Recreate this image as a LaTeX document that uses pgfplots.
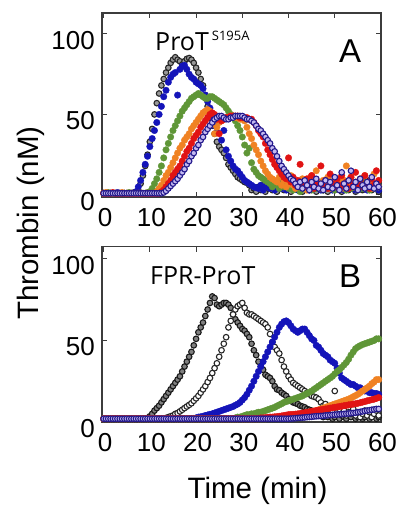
\documentclass[border=0pt]{standalone}
\usepackage{pgfplots}
\pgfplotsset{compat=1.18}
\usepackage{pgfplotstable}
\usepackage{fontspec}
\setmainfont{Liberation Sans}
\newfontfamily\osans{Open Sans}

\definecolor{cBlue}{RGB}{20,20,185}
\definecolor{cGreen}{RGB}{95,150,55}
\definecolor{cOrange}{RGB}{240,130,35}
\definecolor{cRed}{RGB}{225,20,20}
\definecolor{cPurp}{RGB}{35,25,140}
\definecolor{cLav}{RGB}{195,185,240}
\definecolor{cAx}{RGB}{60,60,60}

% top panel: t, black(open, gray centre), blue, green, orange, red, purple
\pgfplotstableread{
t k b g o r p
0 1 1 1 1 1 1
0.5 1 1 1 1.5 1 1
1 1 1 1.5 1 1 1
1.5 1 1 1 1 1 1
2 1 1 1 1 1.5 1
2.5 1 1 1 1 1 1
3 1 1.5 1 1 1 1
3.5 1 1 1 1 1 1
4 1 1 1 1.5 1 1
4.5 1 1 1 1 1 1
5 1 1 1 1 1 1
5.5 1 1 1.5 1 1 1
6 1 1 1 1 1 1
6.5 1.5 1 1 1 1 1
7 1.5 2 1 1 1 1
7.5 3 5 1 1 1 1
8 7 9 1 1 1 1
8.5 12 14 1 1 1 1
9 18 19 1 1 1 1
9.5 25 24 1.5 1 1 1
10 33 30 2 1 1 1
10.5 41 35 4 1 1 1
11 50 40 7 1 1 1
11.5 57 45 10 2 1 1
12 63 50 14 4 1 1
12.5 68 55 18 6 2 1
13 72 61 23 9 3 1.5
13.5 76 65 28 12 5 2.5
14 79 70 32 14 7 4
14.5 82 73 36 17 9 5.5
15 84 75 40 20 12 7
15.5 85.5 76 43 23 14 8.5
16 84 62 46 26 16 10
16.5 83 78 49 29 18 12
17 81 80 52 31 21 14
17.5 83 80.5 54 34 24 16
18 84.5 78 56 36 27 19
18.5 85 75 58 38 29 21
19 84 73 60 41 32 24
19.5 82 72 61 43 35 26
20 79 70 62 45 37 29
20.5 76 69 63 47 39 31
21 72 68 62 49 42 34
21.5 68 66 61 51 44 36
22 62 62 60 52 46 39
22.5 55 58 60 53 48 41
23 48 54 61 52 50 43
23.5 43 48 61 44 51 45
24 38 43 60 38 50 47
24.5 33 39 59 42 47 48
25 30 46 58 45 38 49
25.5 28 34 57 46 46 49
26 26 40 56 47 47 48
26.5 23 28 54 48 48 47
27 19 24 52 48 48 47
27.5 17 21 50 49 49 48
28 15 18 48 49 49 48
28.5 13 16 46 48 49 49
29 11 15 43 48 49 49
29.5 10 13 40 47 48 49
30 9 11 36 47 48 49
30.5 8 9 31 46 48 48
31 7.5 8 26 42 48 47
31.5 6 7 29 38 47 47
32 3 6 20 35 47 46
32.5 4 5 16 31 45 45
33 2 4.5 14 28 43 43
33.5 5 4 12 25 40 41
34 3 6 11 21 38 40
34.5 6 3 10 18 36 38
35 2 5 9 15 32 36
35.5 4 7 8 13 28 34
36 7 4 7 11 25 32
36.5 3 6 5 10 22 29
37 5 3 8 9 19 27
37.5 2 5 6 8 17 24
38 6 8 4 11 15 21
38.5 4 4 7 6 13 18
39 3 6 5 9 11 16
39.5 5 3 9 5 10 14
40 8 5 4 7 23 12
40.5 2 7 6 12 8 10
41 4 4 3 6 11 9
41.5 6 6 7 4 6 7
42 3 3 5 8 9 5
42.5 5 5 2 5 19 8
43 2 8 6 10 7 4
43.5 4 4 4 6 5 9
44 6 6 8 3 10 6
44.5 3 3 5 7 6 3
45 5 5 3 12 12 8
45.5 8 7 6 5 4 5
46 2 4 4 15 8 10
46.5 4 6 7 8 5 4
47 6 3 5 4 18 7
47.5 3 5 3 9 6 3
48 5 8 6 6 9 9
48.5 2 4 4 11 4 5
49 7 6 7 4 13 8
49.5 4 3 5 7 7 4
50 3 5 3 10 5 11
50.5 6 7 6 5 10 6
51 5 4 4 8 6 3
51.5 2 6 8 4 12 14
52 4 3 5 9 5 7
52.5 8 5 3 18 8 4
53 3 8 6 6 4 9
53.5 5 4 4 11 11 15
54 6 6 7 5 7 5
54.5 2 3 5 8 14 8
55 4 5 3 4 6 3
55.5 7 7 6 10 9 10
56 3 4 4 6 5 6
56.5 5 6 8 12 12 4
57 4 3 5 5 7 8
57.5 9 5 3 8 4 5
58 3 8 6 4 10 11
58.5 6 4 4 13 6 4
59 5 6 7 7 15 7
59.5 2 3 5 5 9 5
}\toptab

% bottom panel: t, dark black, open black, blue, green, orange, red, purple
\pgfplotstableread{
t d w b g o r p
0 2 2 2 2 2 2 2
0.5 2 2 2 2 2 2 2
1 2 2 2 2 2 2 2
1.5 2 2 2 2 2 2 2
2 2 2 2 2 2 2 2
2.5 2 2 2 2 2 2 2
3 2 2 2 2 2 2 2
3.5 2 2 2 2 2 2 2
4 2 2 2 2 2 2 2
4.5 2 2 2 2 2 2 2
5 2 2 2 2 2 2 2
5.5 2 2 2 2 2 2 2
6 2 2 2 2 2 2 2
6.5 2 2 2 2 2 2 2
7 2 2 2 2 2 2 2
7.5 2 2 2 2 2 2 2
8 2 2 2 2 2 2 2
8.5 2 2 2 2 2 2 2
9 2 2 2 2 2 2 2
9.5 2.5 2 2 2 2 2 2
10 3.5 2 2 2 2 2 2
10.5 5 2 2 2 2 2 2
11 7 2 2 2 2 2 2
11.5 8.5 2 2 2 2 2 2
12 10 2 2 2 2 2 2
12.5 12 2 2 2 2 2 2
13 14 2 2 2 2 2 2
13.5 16 2.5 2 2 2 2 2
14 18 3 2 2 2 2 2
14.5 20 3.5 2 2 2 2 2
15 22 4 2 2 2 2 2
15.5 24 5 2 2 2 2 2
16 26 5.5 2 2 2 2 2
16.5 28 6.5 2 2 2 2 2
17 31 7.5 2 2 2 2 2
17.5 34 8.5 2 2 2 2 2
18 37 9.5 2 2 2 2 2
18.5 40 10.5 2 2 2 2 2
19 43 11.5 2 2 2 2 2
19.5 47 13 2.2 2 2 2 2
20 51 14.5 2.5 2 2 2 2
20.5 55 16 3 2 2 2 2
21 58 18 3.2 2 2 2 2
21.5 61 20 3.5 2 2 2 2
22 65 22 4 2 2 2 2
22.5 69 24.5 4.3 2 2 2 2
23 73 27 4.7 2 2 2 2
23.5 77 30 5 2 2 2 2
24 76 33 5.5 2 2 2 2
24.5 72 36 6 2 2 2 2
25 71 40 6.5 2 2 2 2
25.5 72 44 7 2 2 2 2
26 73 48 7.5 2 2 2 2
26.5 73 52 8 2 2 2 2
27 72 58 8.5 2 2 2 2
27.5 70 62 9 2 2 2 2
28 66 66 9.5 2 2 2 2
28.5 63 69 10.3 2.5 2 2 2
29 61 71 11 3 2 2 2
29.5 59 72 12 3 2 2 2
30 57 73 13.5 3.5 2 2 2
30.5 56 70 15 4 2 2 2
31 54 67 17 4.5 2 2 2
31.5 52 66 19.5 4.5 2 2 2
32 48 66 22 5 2 2 2
32.5 44 65 25 5 2 2 2
33 41 64 28 5.5 2 2 2
33.5 37 63 31 6 2 2.2 2
34 34 62 34 6 2 2.5 2
34.5 32 61 37 6.5 2 2.5 2
35 29 60 40 7 2 2.7 2
35.5 28 58 43 7.5 2.2 2.8 2
36 27 54 46 8 2.5 3 2
36.5 25 49 49 8.5 2.5 3 2
37 22 46 52 9 2.7 3.2 2
37.5 20 44 55 9.8 2.8 3.3 2
38 19.5 42 58 10.5 3 3.5 2
38.5 18 38 60 11.2 3 3.7 2
39 17 34 61.5 12 3.2 4 2
39.5 16 31 62 12.5 3.4 4.2 2
40 14 28 61 13 3.5 4.5 2
40.5 13 26 59 13.5 3.7 4.6 2.1
41 12 24 57 14 4 4.7 2.2
41.5 11.5 23 56 14.5 4.2 4.8 2.3
42 11 22 55 15 4.5 5 2.5
42.5 10 21 56 15.5 4.7 5.2 2.6
43 9.5 20 57 16 5 5.5 2.7
43.5 9 19 57 16.8 5.2 5.7 2.8
44 8 18 55 17.5 5.5 6 3
44.5 7.5 17 53 18.2 6 6.2 3.1
45 7 16 51 19 6.2 6.5 3.2
45.5 6 15.5 50 20 6.6 6.7 3.4
46 5.5 15 47 21 7 7 3.5
46.5 5 14 46 22 7.5 7.2 3.6
47 4 12 44 23 8 7.5 3.7
47.5 3 10 42 24 8.5 7.7 3.8
48 5 11 41 25 9 8 4
48.5 3 8 40 26 9.5 8.2 4.1
49 4 9 38 27 10 8.5 4.2
49.5 2 7 37 28 10.5 8.7 4.4
50 3 19 36 29.5 11 9 4.5
50.5 5 6 33 31 11.5 9.2 4.6
51 2 8 30 32 12 9.5 4.7
51.5 4 5 27 33.5 12.5 9.7 4.8
52 3 7 26 35 13 10 5
52.5 2 4 25 36.5 13.5 10.2 5.1
53 4 6 24 38.5 14 10.5 5.2
53.5 3 5 23 41 14.7 10.7 5.4
54 5 8 23 43 15.5 11 5.5
54.5 2 4 22 45 16.2 11.2 5.7
55 3 6 21 46 17 11.5 6
55.5 4 3 21 46.8 18 11.8 6.2
56 2 5 20 47.5 19 12.2 6.5
56.5 3 7 19 48 20 12.5 6.8
57 5 4 19 48.5 21 13 7
57.5 2 6 18 49 22 13.3 7.2
58 3 3 18 49.5 23.5 13.7 7.5
58.5 4 5 17.5 50 24.5 14 7.7
59 2 7 17.5 51 26 14.5 8
59.5 3 4 17 51 26 15 8
}\bottab

\pgfplotsset{
  panel/.style={
    scale only axis, width=279pt,
    xmin=-0.35, xmax=60,
    xtick={0,10,...,60}, ytick={0,50,100},
    tick align=inside, major tick length=5pt,
    every tick/.style={line width=1.1pt, cAx},
    axis line style={line width=1.2pt, cAx},
    /pgf/number format/assume math mode=true,
    tick label style={font=\fontsize{26}{26}\selectfont, inner sep=0pt},
    xticklabel style={anchor=north, yshift=-11pt, xshift=1.5pt},
    yticklabel style={anchor=east, xshift=-7pt, yshift=-6.5pt},
  },
  fil/.style={only marks, mark=*, mark size=3.3pt,
    mark options={draw=#1, fill=#1, line width=0.3pt}},
  ring/.style 2 args={only marks, mark=*, mark size=2.8pt,
    mark options={draw=#1, fill=#2, line width=1.1pt}},
}

\begin{document}
\begin{tikzpicture}
\useasboundingbox (0,0) rectangle (401pt,-506pt);

\begin{axis}[panel, at={(102pt,-13pt)}, anchor=north west,
  height=184pt, ymin=-1.3, ymax=113]
\addplot[ring={black!85}{black!40}] table[x=t,y=k]{\toptab};
\addplot[fil=cBlue] table[x=t,y=b]{\toptab};
\addplot[fil=cGreen] table[x=t,y=g]{\toptab};
\addplot[fil=cOrange] table[x=t,y=o]{\toptab};
\addplot[fil=cRed] table[x=t,y=r]{\toptab};
\addplot[ring={cPurp}{cLav}] table[x=t,y=p]{\toptab};
\end{axis}

\begin{axis}[panel, at={(102pt,-246.7pt)}, anchor=north west,
  height=175.3pt, ymin=0, ymax=107.5]
\addplot[ring={black!90}{black!50}] table[x=t,y=d]{\bottab};
\addplot[ring={black!85}{white}] table[x=t,y=w]{\bottab};
\addplot[fil=cBlue] table[x=t,y=b]{\bottab};
\addplot[fil=cGreen] table[x=t,y=g]{\bottab};
\addplot[fil=cOrange] table[x=t,y=o]{\bottab};
\addplot[fil=cRed] table[x=t,y=r]{\bottab};
\addplot[ring={cPurp}{cLav}] table[x=t,y=p]{\bottab};
\end{axis}

\node[anchor=base west, inner sep=0pt, font=\osans\fontsize{25}{25}\selectfont]
  at (155pt,-50pt) {ProT\hspace{3pt}\raisebox{9.5pt}{\fontsize{13}{13}\selectfont S195A}};
\node[anchor=base west, inner sep=0pt, font=\osans\fontsize{25}{25}\selectfont]
  at (150pt,-284pt) {FPR-ProT};
\node[anchor=base west, inner sep=0pt, font=\fontsize{33}{33}\selectfont]
  at (339pt,-62.5pt) {A};
\node[anchor=base west, inner sep=0pt, font=\fontsize{33}{33}\selectfont]
  at (339pt,-287pt) {B};
\node[anchor=base, inner sep=0pt, font=\fontsize{29.5}{30}\selectfont]
  at (257.5pt,-498.5pt) {Time (min)};
\node[anchor=base, inner sep=0pt, rotate=90, font=\fontsize{29.5}{30}\selectfont]
  at (38pt,-223pt) {Thrombin (nM)};
\end{tikzpicture}
\end{document}
